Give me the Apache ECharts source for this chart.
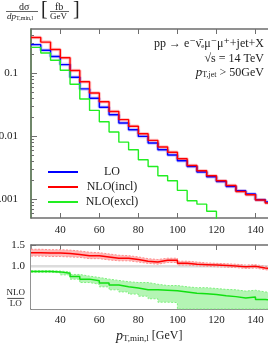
<!DOCTYPE html>
<html><head><meta charset="utf-8">
<script src="https://cdn.jsdelivr.net/npm/echarts@6/dist/echarts.min.js"></script>
<style>html,body{margin:0;padding:0;background:#fff}#c{width:268px;height:345px}</style>
</head><body><div id="c"></div>
<script>
// ---- data ----
const binEdges = [25,30,35,40,45,50,55,60,65,70,75,80,85,90,95,100,105,110,115,120,125,130,135,140,145,150];
const xTickValues = [40,60,80,100,120,140];
const yMajorTicks = [0.001,0.01,0.1];
const yMinorTicks = [0.0006,0.0007,0.0008,0.0009,0.002,0.003,0.004,0.005,0.006,0.007,0.008,0.009,
                     0.02,0.03,0.04,0.05,0.06,0.07,0.08,0.09,0.2,0.3,0.4];
const LO = [0.282,0.230,0.183,0.136,0.0858,0.056,0.0398,0.0286,0.0218,0.0161,0.0126,0.00986,0.00774,
            0.00607,0.00499,0.00406,0.00329,0.00268,0.00226,0.0019,0.00158,0.00135,0.0012,0.000975,0.000896];
const NLOincl = [0.367,0.310,0.237,0.175,0.110,0.0727,0.0482,0.035,0.0245,0.0182,0.0143,0.0109,0.00852,
            0.00669,0.00553,0.00436,0.00341,0.00281,0.00234,0.00195,0.00164,0.00132,0.00117,0.000964,0.000865];
const NLOexcl = [0.255,0.208,0.160,0.111,0.0664,0.0388,0.0255,0.0169,0.0116,0.0080,0.00607,0.0042,0.00329,
            0.00234,0.00195,0.00137,0.00094,0.00083,0.00064];
const exclFloor = 1e-6; // histogram drops to zero after last filled bin
const ratioIncl   = [1.32,1.31,1.31,1.30,1.28,1.25,1.25,1.22,1.19,1.19,1.16,1.12,1.10,1.14,1.14,1.07,1.05,1.04,1.03,1.02,1.01,0.99,1.00,0.96,0.94];
const ratioInclUp = [1.40,1.39,1.39,1.38,1.36,1.33,1.32,1.29,1.26,1.25,1.22,1.18,1.16,1.19,1.19,1.12,1.10,1.08,1.07,1.06,1.05,1.03,1.04,1.00,0.98];
const ratioInclLo = [1.24,1.23,1.23,1.22,1.21,1.18,1.18,1.15,1.13,1.13,1.10,1.07,1.05,1.09,1.09,1.03,1.01,1.00,0.99,0.98,0.97,0.95,0.96,0.92,0.90];
const ratioExcl   = [0.88,0.88,0.87,0.84,0.76,0.70,0.66,0.61,0.56,0.52,0.49,0.45,0.45,0.44,0.43,0.40,0.37,0.36,0.34,0.31,0.29,0.26,0.28,0.22,0.20];
const ratioExclUp = [0.90,0.90,0.89,0.87,0.81,0.77,0.74,0.70,0.67,0.64,0.62,0.62,0.58,0.55,0.55,0.52,0.50,0.50,0.48,0.46,0.45,0.42,0.44,0.40,0.38];
const ratioExclLo = [0.86,0.86,0.85,0.80,0.70,0.62,0.58,0.52,0.45,0.40,0.35,0.30,0.24,0.16,0.15,0,0,0,0,0,0,0,0,0,0];
const ratioRef = 1.0;

// ---- helpers ----
function steps(vals){
  const d = vals.map((v,i)=>[binEdges[i], v]);
  d.push([binEdges[vals.length], vals[vals.length-1]]);
  return d;
}

const SERIF = '"Liberation Serif","DejaVu Serif",serif';
const frame = '#6e6e6e';

const chart = echarts.init(document.getElementById('c'), null, {renderer:'canvas'});

const exclData = steps(NLOexcl);
exclData.push([binEdges[NLOexcl.length], exclFloor]);

function xAx(grid, pos, labels, margin){
  return {type:'value', min:25, max:150, gridIndex:grid, position:pos,
    axisLine:{show:true, onZero:false, lineStyle:{color:frame, width:1.5}},
    axisTick:{show:true, inside:true, length:5, customValues:xTickValues, lineStyle:{color:frame}},
    axisLabel:{show:labels, customValues:xTickValues, margin:margin, color:'#222', fontFamily:SERIF, fontSize:11},
    splitLine:{show:false}};
}
function ratioSeries(name, vals, extra){
  return Object.assign({type:'line', name:name, xAxisIndex:2, yAxisIndex:2, step:'end', data:steps(vals),
    showSymbol:false, silent:true}, extra);
}

const option = {
  animation:false,
  backgroundColor:'#fff',
  grid:[
    {left:31, top:29, width:244, height:189, outerBoundsMode:'none', containLabel:false},
    {left:31, top:245, width:244, height:64, outerBoundsMode:'none', containLabel:false}
  ],
  xAxis:[xAx(0,'bottom',true,7), xAx(0,'top',false,0), xAx(1,'bottom',true,6), xAx(1,'top',false,0)],
  yAxis:[
    {type:'log', logBase:10, min:0.0005, max:0.5, gridIndex:0, position:'left',
     axisLine:{show:true, lineStyle:{color:'#3f5f38', width:1.5}},
     axisTick:{show:true, inside:true, length:6, customValues:yMajorTicks, lineStyle:{color:frame}},
     axisLabel:{show:true, customValues:yMajorTicks, margin:13, color:'#222', fontFamily:SERIF, fontSize:11,
       formatter:v=>String(v)},
     splitLine:{show:false}, minorTick:{show:false}},
    {type:'log', logBase:10, min:0.0005, max:0.5, gridIndex:0, position:'left',
     axisLine:{show:false},
     axisTick:{show:true, inside:true, length:3, customValues:yMinorTicks, lineStyle:{color:frame}},
     axisLabel:{show:false}, splitLine:{show:false}},
    {type:'value', min:0, max:1.5, interval:0.25, gridIndex:1, position:'left',
     axisLine:{show:true, onZero:false, lineStyle:{color:frame, width:1.5}},
     axisTick:{show:true, inside:true, length:5, lineStyle:{color:frame}},
     axisLabel:{show:true, margin:6, color:'#222', fontFamily:SERIF, fontSize:11, align:'right',
       formatter:function(v){
         if (Math.abs(v-1.5)<1e-6) return '1.5';
         if (Math.abs(v-1)<1e-6) return '1.0';
         if (Math.abs(v)<1e-6) return '0';
         if (Math.abs(v-0.25)<1e-6) return '{n|NLO}\n{b| }\n{n|LO}';
         return '';
       },
       rich:{
         n:{fontFamily:SERIF, fontSize:9, color:'#222', lineHeight:9, align:'center'},
         b:{width:17, height:0.8, lineHeight:2, backgroundColor:'#222', fontSize:1, align:'center'}
       }},
     splitLine:{show:false}}
  ],
  legend:{
    show:true, orient:'vertical', left:43, top:161, itemWidth:30, itemHeight:2, itemGap:3,
    icon:'rect', data:['LO','NLO(incl)','NLO(excl)'],
    formatter:n=>'{c|'+n+'}',
    textStyle:{fontFamily:SERIF, fontSize:12, color:'#222',
      rich:{c:{width:58, align:'center', fontFamily:SERIF, fontSize:12, color:'#222'}}}
  },
  graphic:[
    // y-axis title fraction: dσ / dp_T,min,l [fb/GeV]
    {type:'text', left:19, top:2, style:{text:'dσ', font:'10px '+SERIF, fill:'#222'}},
    {type:'line', shape:{x1:6, y1:11.5, x2:38, y2:11.5}, style:{stroke:'#222', lineWidth:0.7}},
    {type:'text', left:7, top:12, style:{text:'{a|dp}{s|T,min,l}', fill:'#222',
       rich:{a:{font:'italic 9px '+SERIF, fill:'#222'}, s:{font:'6px '+SERIF, fill:'#222', padding:[4,0,0,0]}}}},
    {type:'text', left:41, top:0, style:{text:'[', font:'20px '+SERIF, fill:'#222'}},
    {type:'text', left:55, top:2, style:{text:'fb', font:'10px '+SERIF, fill:'#222'}},
    {type:'line', shape:{x1:50, y1:11.5, x2:69, y2:11.5}, style:{stroke:'#222', lineWidth:0.7}},
    {type:'text', left:50, top:12, style:{text:'GeV', font:'9px '+SERIF, fill:'#222'}},
    {type:'text', left:73, top:0, style:{text:']', font:'20px '+SERIF, fill:'#222'}},
    // process annotation
    {type:'text', right:4, top:38, style:{text:'pp → e⁻ν̄ₑμ⁻μ⁺+jet+X', font:'12px '+SERIF, fill:'#222', align:'right'}},
    {type:'text', right:4, top:53, style:{text:'√s = 14 TeV', font:'12px '+SERIF, fill:'#222', align:'right'}},
    {type:'text', right:4, top:66, style:{text:'{p|p}{s|T,jet}{t| > 50GeV}', fill:'#222', align:'right',
       rich:{p:{font:'italic 13px '+SERIF, fill:'#222'}, s:{font:'8px '+SERIF, fill:'#222', padding:[5,0,0,0]}, t:{font:'12px '+SERIF, fill:'#222'}}}},
    // x axis title
    {type:'text', left:116, top:329, style:{text:'{p|p}{s|T,min,l}{t| [GeV]}', fill:'#222',
       rich:{p:{font:'italic 14px '+SERIF, fill:'#222'}, s:{font:'9px '+SERIF, fill:'#222', padding:[6,0,0,0]}, t:{font:'12px '+SERIF, fill:'#222'}}}}
  ],
  series:[
    // pale uncertainty shadows in main panel
    {type:'line', name:'LO band', xAxisIndex:0, yAxisIndex:0, step:'end', data:steps(LO), showSymbol:false,
     lineStyle:{color:'rgba(80,80,255,0.3)', width:3.5}, z:1, silent:true},
    {type:'line', name:'NLO(incl) band', xAxisIndex:0, yAxisIndex:0, step:'end', data:steps(NLOincl), showSymbol:false,
     lineStyle:{color:'rgba(255,80,80,0.3)', width:3.5}, z:1, silent:true},
    {type:'line', name:'LO', color:'#0000ff', xAxisIndex:0, yAxisIndex:0, step:'end', data:steps(LO), showSymbol:false,
     lineStyle:{color:'#0000ff', width:1.4}, z:3},
    {type:'line', name:'NLO(incl)', color:'#ff0000', xAxisIndex:0, yAxisIndex:0, step:'end', data:steps(NLOincl), showSymbol:false,
     lineStyle:{color:'#ff0000', width:1.4}, z:4},
    {type:'line', name:'NLO(excl)', color:'#22ee22', xAxisIndex:0, yAxisIndex:0, step:'end', data:exclData, showSymbol:false,
     lineStyle:{color:'#22ee22', width:1.4}, z:3},
    // ratio panel: bands as fills masked by white below the lower edge
    ratioSeries('incl band', ratioInclUp, {lineStyle:{opacity:0}, areaStyle:{color:'#ffb8b8', opacity:1, origin:'start'}, z:1}),
    ratioSeries('incl mask', ratioInclLo, {lineStyle:{opacity:0}, areaStyle:{color:'#ffffff', opacity:1, origin:'start'}, z:2}),
    ratioSeries('excl band', ratioExclUp, {lineStyle:{opacity:0}, areaStyle:{color:'#b4f5b4', opacity:1, origin:'start'}, z:3}),
    ratioSeries('excl mask', ratioExclLo, {lineStyle:{opacity:0}, areaStyle:{color:'#ffffff', opacity:1, origin:'start'}, z:4}),
    {type:'line', name:'ref', xAxisIndex:2, yAxisIndex:2, data:[[binEdges[0],ratioRef],[binEdges[binEdges.length-1],ratioRef]],
     showSymbol:false, lineStyle:{color:'#dcdcdc', width:2.5}, z:5, silent:true},
    ratioSeries('incl up', ratioInclUp, {lineStyle:{color:'#ff8c8c', width:1, type:[2,1.5]}, z:6}),
    ratioSeries('incl low', ratioInclLo, {lineStyle:{color:'#ff8c8c', width:1, type:[2,1.5]}, z:6}),
    ratioSeries('excl up', ratioExclUp, {lineStyle:{color:'#7ef07e', width:1, type:[2,1.5]}, z:6}),
    ratioSeries('excl low', ratioExclLo, {lineStyle:{color:'#7ef07e', width:1, type:[2,1.5]}, z:6}),
    ratioSeries('incl ratio', ratioIncl, {lineStyle:{color:'#ff0000', width:1.5}, z:7}),
    ratioSeries('excl ratio', ratioExcl, {lineStyle:{color:'#11e011', width:1.5}, z:7})
  ]
};
chart.setOption(option);
</script>
</body></html>
